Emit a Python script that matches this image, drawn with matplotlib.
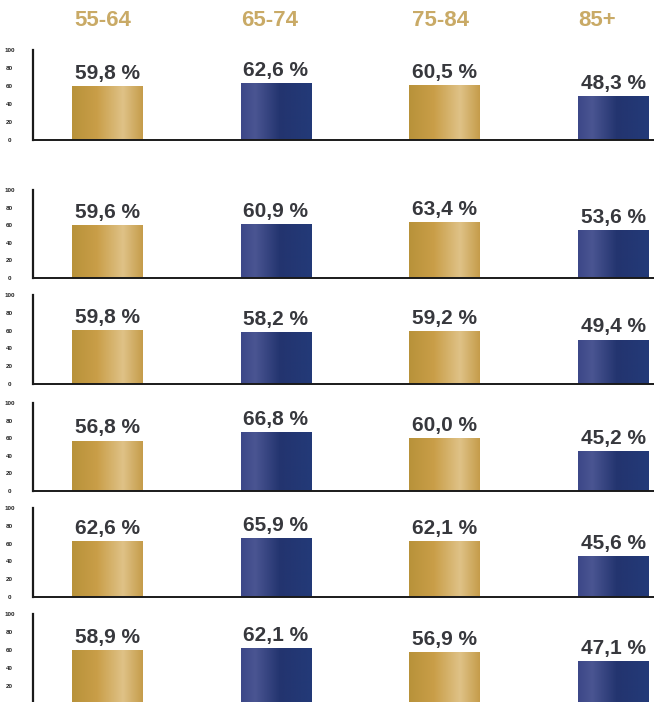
import numpy as np
import matplotlib.pyplot as plt
from matplotlib.colors import LinearSegmentedColormap

# Age groups and the share (%) for each of the six panels
age_groups = ['55-64', '65-74', '75-84', '85+']
row1 = [59.8, 62.6, 60.5, 48.3]
row2 = [59.6, 60.9, 63.4, 53.6]
row3 = [59.8, 58.2, 59.2, 49.4]
row4 = [56.8, 66.8, 60.0, 45.2]
row5 = [62.6, 65.9, 62.1, 45.6]
row6 = [58.9, 62.1, 56.9, 47.1]
rows = [row1, row2, row3, row4, row5, row6]
y_ticks = [0, 20, 40, 60, 80, 100]

# pixel top / bottom of each panel (100 and 0 on the axis)
panel_px = [(50, 140), (190, 278), (295, 384), (403, 491), (508, 597), (614, 704)]
# small horizontal nudges of the column headers
header_shift = [-0.025, -0.036, -0.025, -0.095]

W, H = 654, 702
FONT = ['Liberation Sans', 'DejaVu Sans']
gold = LinearSegmentedColormap.from_list(
    'gold', [(0, '#b8923a'), (0.35, '#c99e48'), (0.72, '#dfc287'), (1, '#c59c4a')])
navy = LinearSegmentedColormap.from_list(
    'navy', [(0, '#3c4788'), (0.2, '#4a5592'), (0.55, '#23346f'), (1, '#233a78')])
grad = np.linspace(0, 1, 256).reshape(1, -1)

fig = plt.figure(figsize=(W / 100, H / 100), dpi=100)
fig.patch.set_facecolor('white')

x_left, x_right = 33, 654
xlim = (-0.4387, 3.2426)
bar_w = 0.415

for r, (vals, (top, bot)) in enumerate(zip(rows, panel_px)):
    ax = fig.add_axes([x_left / W, 1 - bot / H, (x_right - x_left) / W, (bot - top) / H])
    for i, v in enumerate(vals):
        cmap = gold if i % 2 == 0 else navy
        ax.imshow(grad, cmap=cmap, aspect='auto', interpolation='bicubic',
                  extent=(i - bar_w / 2, i + bar_w / 2, 0, v), zorder=2)
        ax.text(i, v + 4, f'{v:.1f} %'.replace('.', ','), ha='center', va='bottom',
                fontsize=15, fontweight='bold', color='#37383d', family=FONT)
    ax.set_xlim(*xlim)
    ax.set_ylim(0, 100)
    ax.set_xticks([])
    ax.set_yticks(y_ticks)
    ax.set_yticklabels([str(t) for t in y_ticks], fontsize=4.5, fontweight='bold',
                       color='#222222', family=FONT)
    ax.tick_params(axis='y', length=0, pad=17)
    for lbl in ax.get_yticklabels():
        lbl.set_horizontalalignment('center')
    for s in ['top', 'right']:
        ax.spines[s].set_visible(False)
    ax.spines['left'].set_linewidth(1.6)
    ax.spines['bottom'].set_linewidth(1.4)
    ax.spines['left'].set_color('#1a1a1a')
    ax.spines['bottom'].set_color('#1a1a1a')
    ax.set_facecolor('none')

    if r == 0:
        for i, g in enumerate(age_groups):
            ax.text(i + header_shift[i], 1 + 30 / (bot - top), g,
                    transform=ax.get_xaxis_transform(),
                    ha='center', va='center', fontsize=16, fontweight='bold',
                    color='#c9aa66', family=FONT)

fig.savefig('out.png', dpi=100)
